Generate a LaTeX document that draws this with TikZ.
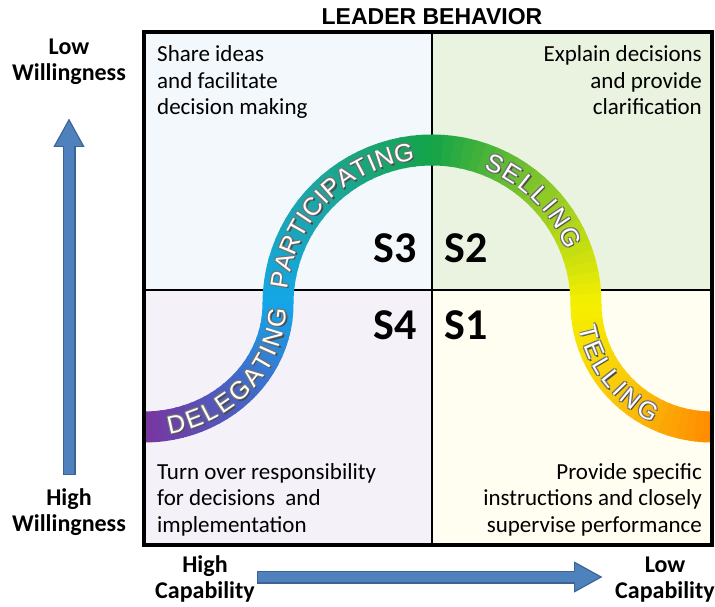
\documentclass[tikz,border=0pt]{standalone}
\usepackage{fontspec}
\usetikzlibrary{arrows.meta,decorations.text}

\newfontfamily\calibri{Carlito}
\newfontfamily\arialfont{Liberation Sans}

% quadrant colours
\definecolor{qtl}{HTML}{F3F8FC}
\definecolor{qtr}{HTML}{E9F3DF}
\definecolor{qbl}{HTML}{F5F1F9}
\definecolor{qbr}{HTML}{FFFEF0}

% band colours, from the purple end to the orange end
\definecolor{c0}{HTML}{7A349E}
\definecolor{c1}{HTML}{4564C6}
\definecolor{c2}{HTML}{14A6E8}
\definecolor{c3}{HTML}{1CA6A0}
\definecolor{c4}{HTML}{14A448}
\definecolor{c5}{HTML}{8CC828}
\definecolor{c6}{HTML}{F6F000}
\definecolor{c7}{HTML}{F9C80C}
\definecolor{c8}{HTML}{FF8A00}

\definecolor{arrowblue}{HTML}{4F81BD}
\definecolor{arrowedge}{HTML}{3B6496}

\newcommand{\arcfont}{\arialfont\fontsize{25}{25}\selectfont}

% piece of the coloured band: centre, radii, angles, colours
\newcommand{\gradarc}[8]{%
  \foreach \k in {0,...,11} {%
    \pgfmathsetmacro{\aa}{#5+(#6-#5)*\k/12}%
    \pgfmathsetmacro{\ab}{#5+(#6-#5)*(\k+1.2)/12}%
    \pgfmathsetmacro{\pc}{100-100*(\k+0.5)/12}%
    \draw[band, draw=#7!\pc!#8] (#1,#2) ++(\aa:#3 and #4) arc (\aa:\ab:#3 and #4);%
  }%
}

% word along the band, with a grey rim
\newcommand{\arclabel}[2]{%
  \foreach \sx/\sy/\tc in {1.3/-1.3/black!70, -0.9/0.9/black!55, 0.9/0.9/black!55,
      -0.9/-0.9/black!55, 0/0/white} {%
    \path[xshift=\sx, yshift=\sy, decorate,
      decoration={text along path, text={|\arcfont|#2},
        text align={fit to path}, raise=-9pt, text color=\tc}] #1;%
  }%
}

\tikzset{
  quadtext/.style={font=\calibri\fontsize{23}{26.5}\selectfont, inner sep=0pt},
  stagelbl/.style={font=\calibri\bfseries\fontsize{44}{44}\selectfont, inner sep=0pt},
  axislbl/.style={font=\calibri\bfseries\fontsize{24}{26}\selectfont, align=center, inner sep=0pt},
  band/.style={line width=31pt},
  axisedge/.style={line width=13pt, draw=arrowedge, -{Triangle[width=29pt,length=29pt]}},
  axisfill/.style={line width=10.5pt, draw=arrowblue, shorten >=2.8pt, shorten <=1.2pt,
    -{Triangle[width=25pt,length=25pt]}},
}

\begin{document}
\begin{tikzpicture}[x=1pt,y=1pt]
  \useasboundingbox (0,0) rectangle (715,606);

  % Quadrants
  \fill[qtl] (144,316) rectangle (432,574);
  \fill[qtr] (432,316) rectangle (712,574);
  \fill[qbl] (144,61) rectangle (432,316);
  \fill[qbr] (432,61) rectangle (712,316);
  \draw[line width=2pt] (432,61) -- (432,574);
  \draw[line width=2pt] (144,316) -- (712,316);

  % Title
  \node[font=\arialfont\bfseries\fontsize{23}{23}\selectfont, anchor=base, inner sep=0pt]
    (ttl) at (432,581) {LEADER BEHAVIOR}; %

  % Band
  \begin{scope}
    \clip (144,61) rectangle (712,574);
    \gradarc{144}{302}{134}{123}{270}{315}{c0}{c1}
    \gradarc{144}{302}{134}{123}{315}{360}{c1}{c2}
    \gradarc{432}{302}{154}{154}{180}{135}{c2}{c3}
    \gradarc{432}{302}{154}{154}{135}{90}{c3}{c4}
    \gradarc{432}{302}{154}{154}{90}{45}{c4}{c5}
    \gradarc{432}{302}{154}{154}{45}{0}{c5}{c6}
    \gradarc{712}{302}{126}{123}{180}{225}{c6}{c7}
    \gradarc{712}{302}{126}{123}{225}{270}{c7}{c8}
  \end{scope}

  % Words on the band
  \arclabel{(144,302) ++(280:134 and 123) arc (280:358:134 and 123)}{DELEGATING}
  \arclabel{(432,302) ++(174:154) arc (174:97:154)}{PARTICIPATING}
  \arclabel{(432,302) ++(69:154) arc (69:22:154)}{SELLING}
  \arclabel{(712,302) ++(190:126 and 123) arc (190:244:126 and 123)}{TELLING}

  % Quadrant texts (anchored at the last line)
  \node[quadtext, align=left, anchor=base west] (tltext) at (157,491)
    {Share ideas\\and facilitate\\decision making}; %
  \node[quadtext, align=right, anchor=base east] (trtext) at (702,491)
    {Explain decisions\\and provide\\clarification}; %
  \node[quadtext, align=left, anchor=base west] (bltext) at (157,74)
    {Turn over responsibility\\for decisions~ and\\implementation}; %
  \node[quadtext, align=right, anchor=base east] (brtext) at (702,74)
    {Provide specific\\instructions and closely\\supervise performance}; %

  % Stages
  \node[stagelbl, anchor=base east] (s3) at (417,343) {S3}; %
  \node[stagelbl, anchor=base west] (s2) at (444,343) {S2}; %
  \node[stagelbl, anchor=base east] (s4) at (417,266) {S4}; %
  \node[stagelbl, anchor=base west] (s1) at (444,266) {S1}; %

  % Frame
  \draw[line width=4pt] (144,61) rectangle (712,574);

  % Willingness axis
  \node[axislbl, anchor=base] (lowwill) at (69,525) {Low\\Willingness}; %
  \node[axislbl, anchor=base] (highwill) at (69,75) {High\\Willingness}; %
  \coordinate (wtail) at (69,131);
  \coordinate (wtip) at (69,488);
  \draw[axisedge] (wtail) -- (wtip);
  \draw[axisfill] (wtail) -- (wtip);

  % Capability axis
  \node[axislbl, anchor=base] (highcap) at (205,8) {High\\Capability}; %
  \node[axislbl, anchor=base] (lowcap) at (665,8) {Low\\Capability}; %
  \coordinate (ctail) at (257,29);
  \coordinate (ctip) at (603,29);
  \draw[axisedge] (ctail) -- (ctip);
  \draw[axisfill] (ctail) -- (ctip);

\end{tikzpicture}
\end{document}
